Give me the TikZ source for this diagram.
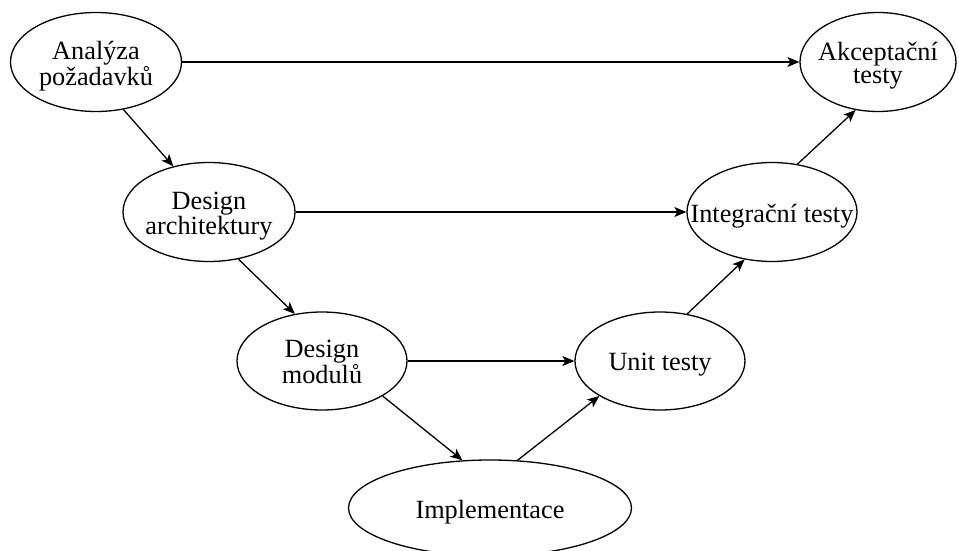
\documentclass[tikz,border=0pt]{standalone}
\usepackage{fontspec}
\setmainfont{Liberation Serif}
\usetikzlibrary{shapes.geometric,arrows.meta}
% zero-size centred label, set a little below the ellipse centre;
% the ellipse size comes only from its minimum size
\newcommand{\lbl}[1]{\raisebox{-10.6pt}[0pt][0pt]{\makebox[0pt][c]{\begin{tabular}{@{}c@{}}#1\end{tabular}}}}
\begin{document}
\begin{tikzpicture}[x=1pt,y=-1pt,
  phase/.style={draw, ellipse, line width=1.3pt, inner sep=0pt,
    font=\fontsize{26.3}{22.5}\selectfont},
  flow/.style={line width=1.3pt, -{Stealth[length=12pt,width=10pt,inset=3pt]}}]
\useasboundingbox (0,0) rectangle (959,551);
% left branch of the V
\node[phase, minimum width=171pt, minimum height=99pt] (req) at (96,62) {\lbl{Analýza\\požadavků}};
\node[phase, minimum width=172pt, minimum height=99pt] (arch) at (209,212) {\lbl{Design\\architektury}};
\node[phase, minimum width=170pt, minimum height=98pt] (mod) at (322,361) {\lbl{Design\\modulů}};
% bottom
\node[phase, minimum width=283pt, minimum height=96pt] (impl) at (490,508) {\lbl{Implementace}};
% right branch of the V
\node[phase, minimum width=170pt, minimum height=98pt] (unit) at (660,361) {\lbl{Unit testy}};
\node[phase, minimum width=170pt, minimum height=99pt] (integ) at (772,212) {\lbl{Integrační testy}};
\node[phase, minimum width=156pt, minimum height=99pt] (acc) at (878,62) {\lbl{Akceptační\\testy}};
% development flow
\draw[flow] (req.-60) -- (arch.128);
\draw[flow] (arch.-58) -- (mod.120);
\draw[flow] (mod.-30) -- (impl.120);
\draw[flow] (impl.60) -- (unit.-150);
\draw[flow] (unit.60) -- (integ.-120);
\draw[flow] (integ.62) -- (acc.-115);
% verification links
\draw[flow] (req.east) -- (acc.west);
\draw[flow] (arch.east) -- (integ.west);
\draw[flow] (mod.east) -- (unit.west);
\end{tikzpicture}
\end{document}
